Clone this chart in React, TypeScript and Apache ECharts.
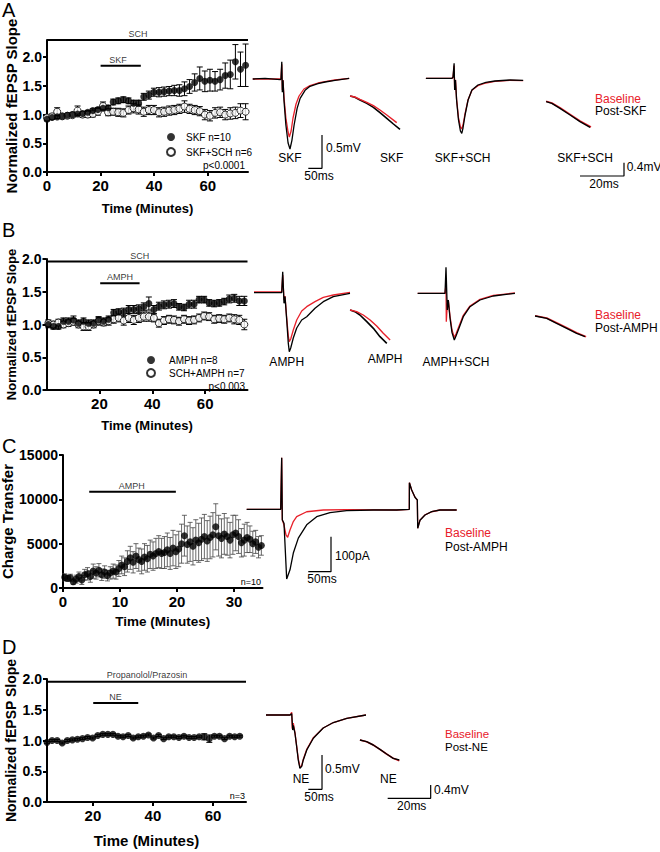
import React, { useEffect, useRef } from "react";
import * as echarts from "echarts";

const FONT = 'Arial, "Liberation Sans", Helvetica, sans-serif';
const RED = "#e8202a";

// ---------- Panel A : fEPSP slope, SKF vs SKF+SCH ----------
const A_T0 = 0;
const A_DT = 1.9;
const A_SKF = [0.92, 0.95, 0.96, 0.97, 0.99, 1.0, 1.01, 1.02, 1.04, 1.07, 1.09, 1.11, 1.12, 1.22, 1.24, 1.26, 1.24, 1.2, 1.2, 1.31, 1.34, 1.39, 1.39, 1.4, 1.41, 1.42, 1.42, 1.45, 1.49, 1.56, 1.63, 1.58, 1.6, 1.58, 1.61, 1.68, 1.7, 1.92, 1.79, 1.86];
const A_SKF_SEM = [0.03, 0.03, 0.03, 0.03, 0.03, 0.03, 0.03, 0.03, 0.03, 0.03, 0.03, 0.03, 0.04, 0.05, 0.05, 0.05, 0.05, 0.05, 0.05, 0.06, 0.07, 0.07, 0.08, 0.08, 0.08, 0.09, 0.1, 0.12, 0.12, 0.15, 0.2, 0.18, 0.19, 0.17, 0.18, 0.22, 0.25, 0.3, 0.3, 0.37];
const A_SKFSCH = [0.95, 0.97, 1.05, 0.97, 0.98, 0.99, 1.07, 1.0, 1.0, 1.01, 1.05, 1.15, 1.04, 1.05, 1.04, 1.03, 1.08, 1.11, 1.09, 1.05, 1.08, 1.08, 1.04, 1.05, 1.07, 1.08, 1.1, 1.14, 1.1, 1.08, 1.06, 1.0, 0.98, 1.03, 1.04, 1.0, 1.02, 1.03, 1.07, 1.05];
const A_SKFSCH_SEM = [0.04, 0.04, 0.07, 0.04, 0.04, 0.04, 0.08, 0.05, 0.05, 0.05, 0.06, 0.07, 0.06, 0.06, 0.07, 0.07, 0.07, 0.08, 0.08, 0.08, 0.08, 0.08, 0.08, 0.08, 0.08, 0.08, 0.08, 0.1, 0.08, 0.08, 0.08, 0.09, 0.09, 0.09, 0.09, 0.09, 0.1, 0.1, 0.12, 0.14];

// ---------- Panel B : fEPSP slope, AMPH vs SCH+AMPH ----------
const B_T0 = 0.7;
const B_DT = 1.9;
const B_AMPH = [1.0, 0.97, 0.97, 1.05, 1.05, 1.07, 1.02, 1.05, 1.02, 1.02, 1.07, 1.05, 1.08, 1.18, 1.19, 1.19, 1.23, 1.23, 1.24, 1.27, 1.32, 1.23, 1.28, 1.3, 1.31, 1.32, 1.27, 1.26, 1.31, 1.31, 1.38, 1.38, 1.33, 1.32, 1.33, 1.35, 1.39, 1.4, 1.36, 1.36];
const B_AMPH_SEM = [0.05, 0.04, 0.04, 0.05, 0.05, 0.06, 0.05, 0.05, 0.05, 0.05, 0.05, 0.05, 0.05, 0.05, 0.05, 0.06, 0.06, 0.06, 0.06, 0.06, 0.1, 0.06, 0.06, 0.06, 0.06, 0.06, 0.05, 0.05, 0.06, 0.06, 0.05, 0.05, 0.05, 0.05, 0.05, 0.05, 0.06, 0.06, 0.07, 0.07];
const B_SCHAMPH = [1.02, 1.0, 1.03, 1.0, 1.02, 1.04, 1.0, 0.97, 0.97, 1.0, 1.05, 1.03, 1.05, 1.08, 1.1, 1.06, 1.1, 1.07, 1.1, 1.12, 1.12, 1.1, 1.02, 1.06, 1.08, 1.07, 1.05, 1.08, 1.06, 1.07, 1.1, 1.13, 1.12, 1.08, 1.09, 1.08, 1.1, 1.08, 1.07, 1.0];
const B_SCHAMPH_SEM = [0.05, 0.05, 0.05, 0.05, 0.05, 0.05, 0.05, 0.06, 0.06, 0.05, 0.06, 0.05, 0.06, 0.06, 0.06, 0.07, 0.07, 0.07, 0.07, 0.07, 0.07, 0.06, 0.06, 0.06, 0.06, 0.06, 0.06, 0.06, 0.06, 0.06, 0.06, 0.06, 0.06, 0.06, 0.06, 0.06, 0.06, 0.07, 0.07, 0.08];

// ---------- Panel C : charge transfer ----------
const C_T0 = 0.3;
const C_DT = 0.5;
const C_CHARGE = [1200, 1100, 1150, 700, 1000, 1300, 900, 1500, 1600, 1300, 1900, 1700, 2000, 1500, 1800, 1400, 1700, 1900, 1800, 2200, 2600, 2400, 3000, 3400, 2900, 3600, 3200, 3000, 3500, 3300, 3800, 3600, 3900, 4100, 3900, 4000, 4300, 3900, 4500, 4100, 4400, 5000, 5900, 4900, 5200, 4700, 5400, 5100, 5500, 5800, 5300, 5700, 6000, 6900, 5900, 5600, 6100, 5800, 5400, 6000, 6200, 5800, 5100, 5400, 5700, 5500, 5000, 5200, 4600, 4800];
const C_CHARGE_SEM = [400, 350, 400, 300, 450, 500, 500, 600, 700, 650, 800, 700, 750, 650, 700, 600, 700, 800, 800, 900, 1000, 1000, 1200, 1300, 1200, 1400, 1300, 1400, 1500, 1500, 1600, 1600, 1700, 1800, 1700, 1800, 1900, 1800, 2000, 1900, 2000, 2200, 2300, 2100, 2200, 2100, 2300, 2200, 2400, 2500, 2300, 2400, 2500, 2600, 2300, 2200, 2300, 2100, 2000, 2200, 2000, 1900, 1600, 1800, 1700, 1500, 1400, 1300, 1200, 1100];

// ---------- Panel D : fEPSP slope, NE ----------
const D_T0 = 4.7;
const D_DT = 1.69;
const D_NE = [0.97, 1.0, 1.0, 0.96, 1.0, 1.01, 1.02, 1.03, 1.05, 1.04, 1.08, 1.1, 1.1, 1.1, 1.07, 1.06, 1.08, 1.04, 1.06, 1.07, 1.09, 1.04, 1.08, 1.03, 1.06, 1.06, 1.05, 1.07, 1.05, 1.05, 1.06, 1.06, 1.03, 1.07, 1.07, 1.03, 1.07, 1.06, 1.07];
const D_NE_SEM = [0.015, 0.015, 0.015, 0.015, 0.015, 0.015, 0.015, 0.015, 0.015, 0.015, 0.015, 0.015, 0.015, 0.015, 0.015, 0.015, 0.015, 0.015, 0.015, 0.015, 0.015, 0.015, 0.015, 0.015, 0.015, 0.015, 0.015, 0.015, 0.015, 0.015, 0.015, 0.05, 0.06, 0.015, 0.015, 0.015, 0.015, 0.015, 0.015];

// ---------- Example traces [ms, mV] (or [ms, pA] for C) ----------
const A_SKF_BASE = [[10, 0], [110, 0], [113, 0], [116, 0.22], [118, -0.165], [120.5, -0.015], [124, -0.27], [131, -0.585], [139, -0.795], [143.5, -0.87], [150, -0.78], [157, -0.585], [168, -0.375], [179, -0.255], [197, -0.15], [219, -0.1], [248, -0.06], [274, -0.04], [310, -0.015], [362, 0.01]];
const A_SKF_POST = [[10, 0], [55, 0.01], [110, -0.01], [113, 0], [116, 0.26], [118, -0.2], [120.5, -0.02], [124, -0.32], [131, -0.69], [139, -0.96], [146, -1.05], [153, -0.92], [161, -0.69], [172, -0.44], [183, -0.29], [201, -0.17], [219, -0.11], [248, -0.07], [274, -0.045], [310, -0.02], [362, 0.01]];
const A_SCH_BASE = [[642, 0.01], [737, 0.01], [741, 0.02], [745, 0.2], [747, -0.14], [750, -0.01], [754, -0.3], [761, -0.58], [768, -0.72], [772, -0.75], [777.5, -0.69], [785, -0.52], [796, -0.31], [810, -0.17], [832, -0.1], [861, -0.06], [894, -0.035], [949, -0.02], [997, -0.025]];
const A_SCH_POST = [[642, 0.01], [737, 0.01], [741, 0.03], [745, 0.235], [747, -0.165], [750, -0.015], [754, -0.315], [761, -0.615], [768, -0.78], [773, -0.815], [777.5, -0.735], [785, -0.54], [796, -0.315], [810, -0.165], [832, -0.09], [861, -0.05], [894, -0.03], [949, -0.015], [997, -0.02]];
const A_SKF_RISE_BASE = [[2.3, 0], [4.5, -0.03], [6.8, -0.1], [9.9, -0.19], [12.9, -0.29], [15.9, -0.42], [19, -0.57], [23.5, -0.8]];
const A_SKF_RISE_POST = [[2.3, 0], [4.5, -0.04], [6.8, -0.12], [9.9, -0.22], [12.9, -0.34], [15.9, -0.5], [19, -0.67], [22, -0.84], [25, -1.0]];
const A_SCH_RISE_BASE = [[91.4, -0.16], [94, -0.21], [97.7, -0.35], [102.3, -0.55], [106.8, -0.75], [111.8, -0.93]];
const A_SCH_RISE_POST = [[91.4, -0.17], [94, -0.22], [97.7, -0.37], [102.3, -0.57], [106.8, -0.77], [111.4, -0.94]];

const B_AMPH_BASE = [[14.6, 0.01], [115.7, 0.01], [119.4, 0.265], [124.1, -0.11], [127.8, -0.05], [134, -0.38], [139.8, -0.65], [143.4, -0.735], [148.6, -0.695], [158, -0.56], [170.5, -0.41], [188.7, -0.275], [207, -0.21], [237.3, -0.135], [267.5, -0.07], [304, -0.035], [365, 0.003]];
const B_AMPH_POST = [[14.6, 0], [115.7, 0], [119.4, 0.315], [124.1, -0.16], [127.8, -0.06], [134, -0.41], [139.8, -0.76], [143.4, -0.885], [148.6, -0.83], [158, -0.68], [170.5, -0.53], [188.7, -0.41], [207, -0.36], [237.3, -0.235], [267.5, -0.135], [304, -0.06], [365, -0.01]];
const B_SCH_BASE = [[612, -0.01], [711.8, -0.01], [715.4, 0.12], [716.5, -0.435], [720.1, -0.18], [723.8, -0.11], [730, -0.35], [737.3, -0.56], [745.7, -0.67], [751.9, -0.62], [760.3, -0.53], [778.5, -0.34], [803, -0.2], [839.5, -0.1], [888, -0.04], [967, -0.005]];
const B_SCH_POST = [[612, -0.01], [711.8, -0.01], [715.4, 0.38], [720.1, -0.26], [723.8, -0.11], [730, -0.38], [737.3, -0.6], [745.7, -0.71], [751.9, -0.65], [760.3, -0.56], [778.5, -0.36], [803, -0.21], [839.5, -0.11], [888, -0.05], [967, -0.01]];
const B_AMPH_RISE_BASE = [[2.3, 0], [5.3, -0.05], [8.3, -0.15], [11.4, -0.3], [14.4, -0.48], [17.4, -0.7], [20.5, -0.9]];
const B_AMPH_RISE_POST = [[2.3, 0], [4.5, -0.05], [6.8, -0.15], [9.9, -0.35], [12.9, -0.55], [15.9, -0.8], [19, -1.0]];
const B_SCH_RISE_BASE = [[86.4, -0.17], [91.7, -0.24], [96.2, -0.38], [100.8, -0.53], [105.3, -0.68], [109.6, -0.8]];
const B_SCH_RISE_POST = [[86.4, -0.18], [91.7, -0.25], [96.2, -0.4], [100.8, -0.55], [105.3, -0.7], [109.1, -0.8]];

const C_BASE = [[3.7, 0], [78.5, 0], [80.7, 147], [82.1, -30], [85.8, -45], [90.2, -73], [93.9, -80], [99, -59], [106.3, -35], [113.7, -21], [135.7, -7], [172.3, -2], [223.7, -1], [333.7, -2], [361.5, 0], [361.7, 76], [366.7, 55], [374, 34], [379.1, 27], [380, -54], [385, -31], [396, -16], [410.7, -7], [429, -2], [465.7, -2]];
const C_POST = [[3.7, 0], [78.5, 0], [80.7, 147.4], [82.1, -30.6], [85.8, -40], [91.7, -199.4], [99, -173], [106.3, -125.1], [117.3, -82.3], [135.7, -44.3], [157.7, -21], [187, -9.6], [223.7, -4], [282.3, -2], [333.7, -2], [361.5, 0], [361.7, 76], [366.7, 55.1], [374, 34.3], [379.1, 26.6], [380, -54.3], [385, -31.4], [396, -16.3], [410.7, -6.9], [429, -2], [465.7, -2]];

const D_NE_BASE = [[40, 0], [128, 0], [134, 0.04], [136, -0.2], [139.8, -0.12], [146, -0.26], [152, -0.45], [158, -0.64], [164, -0.76], [170.5, -0.74], [176, -0.65], [189, -0.5], [213, -0.33], [249, -0.19], [286, -0.11], [335, -0.05], [405, 0]];
const D_NE_POST = [[40, 0], [128, 0], [134, 0.02], [137.6, -0.22], [139.8, -0.15], [146, -0.27], [152, -0.46], [158, -0.66], [164, -0.78], [170.5, -0.75], [176, -0.66], [189, -0.51], [213, -0.34], [249, -0.19], [286, -0.11], [335, -0.05], [405, 0]];
const D_NE_RISE_BASE = [[2.3, 0], [5.4, -0.05], [8.5, -0.15], [11.6, -0.28], [14.7, -0.42], [17.8, -0.55], [20.6, -0.62]];
const D_NE_RISE_POST = [[2.3, 0], [5.4, -0.05], [8.5, -0.15], [11.6, -0.28], [14.7, -0.42], [17.8, -0.55], [20.6, -0.6]];

// scale bars: [ms, amplitude]
const SCALE_FULL = [50, 0.5];
const SCALE_ZOOM = [20, 0.4];
const SCALE_C = [50, 100];

// ---------- helpers ----------
const pts = (t0: number, dt: number, vals: number[], sem?: number[]) =>
  vals.map((v, i) => (sem ? [+(t0 + i * dt).toFixed(2), v, sem[i]] : [+(t0 + i * dt).toFixed(2), v]));

function errRender(cap: number, color: string, lw: number) {
  return (params: any, api: any) => {
    const x = api.value(0);
    const y = api.value(1);
    const e = api.value(2);
    const hi = api.coord([x, y + e]);
    const lo = api.coord([x, y - e]);
    const st = { stroke: color, lineWidth: lw };
    return {
      type: "group",
      children: [
        { type: "line", shape: { x1: hi[0], y1: hi[1], x2: lo[0], y2: lo[1] }, style: st },
        { type: "line", shape: { x1: hi[0] - cap, y1: hi[1], x2: hi[0] + cap, y2: hi[1] }, style: st },
        { type: "line", shape: { x1: lo[0] - cap, y1: lo[1], x2: lo[0] + cap, y2: lo[1] }, style: st },
      ],
    };
  };
}

const errSeries = (gi: number, data: number[][], cap = 3, color = "#000", lw = 1) => ({
  type: "custom",
  xAxisIndex: gi,
  yAxisIndex: gi,
  data,
  encode: { x: 0, y: 1 },
  renderItem: errRender(cap, color, lw),
  silent: true,
  clip: false,
  z: 2,
});

const dots = (gi: number, name: string, data: number[][], open: boolean, size = 7, z = 4) => ({
  type: "scatter",
  name,
  xAxisIndex: gi,
  yAxisIndex: gi,
  data: data.map((d) => [d[0], d[1]]),
  symbol: "circle",
  symbolSize: size,
  itemStyle: open ? { color: "#fff", borderColor: "#000", borderWidth: 1 } : { color: "#000" },
  silent: true,
  z,
});

const barLine = (gi: number, x0: number, x1: number, y: number) => ({
  type: "line",
  xAxisIndex: gi,
  yAxisIndex: gi,
  data: [[x0, y], [x1, y]],
  symbol: "none",
  lineStyle: { color: "#000", width: 2 },
  clip: false,
  silent: true,
  z: 5,
});

const barLabel = (gi: number, x: number, y: number, text: string, dist = 1, size = 9) => ({
  type: "scatter",
  xAxisIndex: gi,
  yAxisIndex: gi,
  data: [[x, y]],
  symbolSize: 0,
  itemStyle: { color: "#000" },
  silent: true,
  clip: false,
  label: {
    show: true,
    position: "top",
    distance: dist,
    formatter: text,
    fontSize: size,
    color: "#000",
    fontFamily: FONT,
    textBorderWidth: 0,
  },
  z: 5,
});

const trace = (gi: number, data: number[][], color: string, width = 1.3, z = 3) => ({
  type: "line",
  xAxisIndex: gi,
  yAxisIndex: gi,
  data,
  symbol: "none",
  showSymbol: false,
  lineStyle: { color, width },
  itemStyle: { color },
  clip: false,
  silent: true,
  z,
});

const scaleBar = (gi: number, corner: number[], dims: number[]) => ({
  type: "line",
  xAxisIndex: gi,
  yAxisIndex: gi,
  data: [
    [corner[0] - dims[0], corner[1]],
    [corner[0], corner[1]],
    [corner[0], corner[1] + dims[1]],
  ],
  symbol: "none",
  lineStyle: { color: "#000", width: 1.2 },
  clip: false,
  silent: true,
  z: 3,
});

const plotX = (gi: number, min: number, max: number, ticks: number[], nameSize: number, nameGap: number) => ({
  type: "value",
  gridIndex: gi,
  min,
  max,
  axisLine: { show: true, onZero: false, lineStyle: { color: "#000", width: 2 } },
  axisTick: { show: true, length: 4, lineStyle: { color: "#000", width: 2 }, customValues: ticks },
  axisLabel: { show: true, customValues: ticks, margin: 6, fontSize: 15, fontWeight: "bold", color: "#000", fontFamily: FONT },
  splitLine: { show: false },
  name: "Time (Minutes)",
  nameLocation: "middle",
  nameGap,
  nameTextStyle: { fontSize: nameSize, fontWeight: "bold", color: "#000", fontFamily: FONT },
});

const plotY = (gi: number, min: number, max: number, ticks: number[], name: string, nameSize: number, nameGap: number, digits: number) => ({
  type: "value",
  gridIndex: gi,
  min,
  max,
  axisLine: { show: true, onZero: false, lineStyle: { color: "#000", width: 2 } },
  axisTick: { show: true, length: 4, lineStyle: { color: "#000", width: 2 }, customValues: ticks },
  axisLabel: {
    show: true,
    customValues: ticks,
    margin: 5,
    fontSize: 14,
    fontWeight: "bold",
    color: "#000",
    fontFamily: FONT,
    formatter: (v: number) => v.toFixed(digits),
  },
  splitLine: { show: false },
  name,
  nameLocation: "middle",
  nameGap,
  nameTextStyle: { fontSize: nameSize, fontWeight: "bold", color: "#000", fontFamily: FONT },
});

const hx = (gi: number, max: number) => ({ type: "value", gridIndex: gi, min: 0, max, show: false, splitLine: { show: false } });
const hy = (gi: number, min: number, max: number) => ({ type: "value", gridIndex: gi, min, max, show: false, splitLine: { show: false } });

const txt = (text: string, x: number, y: number, size = 12, align = "left", color = "#000", weight = "normal") => ({
  type: "text",
  x,
  y,
  silent: true,
  style: {
    text,
    fill: color,
    font: `${weight} ${size}px ${FONT}`,
    align,
    verticalAlign: "middle",
    textAlign: align,
    textVerticalAlign: "middle",
  },
});

function buildOption() {
  const aSkf = pts(A_T0, A_DT, A_SKF, A_SKF_SEM);
  const aSch = pts(A_T0, A_DT, A_SKFSCH, A_SKFSCH_SEM);
  const bAmph = pts(B_T0, B_DT, B_AMPH, B_AMPH_SEM);
  const bSch = pts(B_T0, B_DT, B_SCHAMPH, B_SCHAMPH_SEM);
  const cCh = pts(C_T0, C_DT, C_CHARGE, C_CHARGE_SEM);
  const dNe = pts(D_T0, D_DT, D_NE, D_NE_SEM);

  const gridBoxes = [
    { left: 47, top: 40, width: 201, height: 132 },
    { left: 46.5, top: 259, width: 201, height: 131 },
    { left: 63, top: 455, width: 199.5, height: 133 },
    { left: 47, top: 679, width: 199, height: 123 },
    { left: 250, top: 55, width: 280, height: 130 },
    { left: 345, top: 90, width: 290, height: 95 },
    { left: 250, top: 262, width: 280, height: 100 },
    { left: 345, top: 300, width: 260, height: 50 },
    { left: 245, top: 450, width: 215, height: 135 },
    { left: 255, top: 700, width: 175, height: 100 },
    { left: 355, top: 730, width: 90, height: 75 },
  ];
  const grid = gridBoxes.map((g) => ({ ...g, containLabel: false, outerBoundsMode: "none", show: false }));

  const xAxis = [
    plotX(0, 0, 75, [0, 20, 40, 60], 13, 29.5),
    plotX(1, 0, 76, [20, 40, 60], 13, 28.5),
    plotX(2, 0, 35, [0, 10, 20, 30], 13.5, 26),
    plotX(3, 4.7, 71, [20, 40, 60], 15, 30.5),
    hx(4, 1022),
    hx(5, 131.8),
    hx(6, 1022),
    hx(7, 118.2),
    hx(8, 473),
    hx(9, 638.75),
    hx(10, 41.86),
  ];
  const yAxis = [
    plotY(0, 0, 2.3, [0, 0.5, 1, 1.5, 2], "Normalized fEPSP Slope", 15, 28.5, 1),
    plotY(1, 0, 2, [0, 0.5, 1, 1.5, 2], "Normalized fEPSP Slope", 13, 29, 1),
    plotY(2, 0, 15000, [0, 5000, 10000, 15000], "Charge Transfer", 15, 45.5, 0),
    plotY(3, 0, 2, [0, 0.5, 1, 1.5, 2], "Normalized fEPSP Slope", 14, 29, 1),
    hy(4, -1.59, 0.36),
    hy(5, -2.67, 0.18),
    hy(6, -1.04, 0.46),
    hy(7, -1.2, 0.3),
    hy(8, -216.3, 169.4),
    hy(9, -1.241, 0.219),
    hy(10, -1.95, 0.3),
  ];

  const series: any[] = [
    // Panel A
    errSeries(0, aSch),
    errSeries(0, aSkf),
    dots(0, "SKF+SCH n=6", aSch, true, 7, 3),
    dots(0, "SKF n=10", aSkf, false, 7, 4),
    barLine(0, 0, 75, 2.3),
    barLabel(0, 34, 2.3, "SCH", 2),
    barLine(0, 20, 35, 1.85),
    barLabel(0, 26.5, 1.85, "SKF", 1),
    // Panel B
    errSeries(1, bSch),
    errSeries(1, bAmph),
    dots(1, "SCH+AMPH n=7", bSch, true, 7, 3),
    dots(1, "AMPH n=8", bAmph, false, 7, 4),
    barLine(1, 0, 76, 1.96),
    barLabel(1, 35.3, 1.96, "SCH", 1),
    barLine(1, 20.3, 35.2, 1.63),
    barLabel(1, 27.8, 1.63, "AMPH", 2),
    // Panel C
    errSeries(2, cCh, 2.5, "#444", 0.8),
    dots(2, "Charge", cCh, false, 7, 4),
    barLine(2, 4.6, 19.8, 10850),
    barLabel(2, 12.05, 10850, "AMPH", 1),
    // Panel D
    errSeries(3, dNe),
    dots(3, "NE n=3", dNe, false, 7, 4),
    barLine(3, 4.7, 71, 1.956),
    barLabel(3, 38, 1.956, "Propanolol/Prazosin", 2),
    barLine(3, 20.1, 35.1, 1.61),
    barLabel(3, 27.5, 1.61, "NE", 1),
    // Traces A
    trace(4, A_SKF_BASE, RED),
    trace(4, A_SKF_POST, "#000"),
    trace(4, A_SCH_BASE, RED),
    trace(4, A_SCH_POST, "#000"),
    trace(5, A_SKF_RISE_POST, "#000", 1.6),
    trace(5, A_SKF_RISE_BASE, RED, 1.4),
    trace(5, A_SCH_RISE_BASE, RED, 1.6),
    trace(5, A_SCH_RISE_POST, "#000", 1.4),
    scaleBar(4, [262.8, -1.34], SCALE_FULL),
    scaleBar(5, [126.8, -2.4], SCALE_ZOOM),
    // Traces B
    trace(6, B_AMPH_BASE, RED),
    trace(6, B_AMPH_POST, "#000"),
    trace(6, B_SCH_BASE, RED),
    trace(6, B_SCH_POST, "#000"),
    trace(7, B_AMPH_RISE_POST, "#000", 1.6),
    trace(7, B_AMPH_RISE_BASE, RED, 1.4),
    trace(7, B_SCH_RISE_BASE, RED, 1.6),
    trace(7, B_SCH_RISE_POST, "#000", 1.4),
    // Traces C
    trace(8, C_BASE, RED),
    trace(8, C_POST, "#000"),
    scaleBar(8, [189.2, -178.3], SCALE_C),
    // Traces D
    trace(9, D_NE_BASE, RED),
    trace(9, D_NE_POST, "#000"),
    trace(10, D_NE_RISE_BASE, RED, 1.6),
    trace(10, D_NE_RISE_POST, "#000", 1.4),
    scaleBar(9, [244.6, -1.085], SCALE_FULL),
    scaleBar(10, [35.2, -1.75], SCALE_ZOOM),
  ];

  const legendBase = {
    orient: "vertical",
    itemWidth: 8,
    itemHeight: 8,
    selectedMode: false,
    icon: "circle",
    padding: 0,
    textStyle: { fontSize: 10, color: "#000", fontFamily: FONT, lineHeight: 12 },
  };
  const legend = [
    { ...legendBase, data: ["SKF n=10", "SKF+SCH n=6"], left: 166, top: 131, itemGap: 3, textStyle: { ...legendBase.textStyle, padding: [0, 0, 0, 6] } },
    { ...legendBase, data: ["AMPH n=8", "SCH+AMPH n=7"], left: 146, top: 354, itemGap: 1, textStyle: { ...legendBase.textStyle, padding: [0, 0, 0, 9] } },
  ];

  const graphicEls = [
    txt("A", 2, 10, 20),
    txt("B", 2, 230, 20),
    txt("C", 2, 446, 20),
    txt("D", 2, 647, 20),
    txt("p<0.0001", 245, 165, 10, "right"),
    txt("p<0.003", 245, 386, 10, "right"),
    txt("n=10", 261, 582, 9, "right"),
    txt("n=3", 245, 796, 9, "right"),
    // A traces
    txt("SKF", 290, 158.3, 12, "center"),
    txt("0.5mV", 326, 147.7, 12),
    txt("50ms", 319, 176, 12, "center"),
    txt("SKF", 391.7, 158.3, 12, "center"),
    txt("SKF+SCH", 462.7, 158.3, 12, "center"),
    txt("SKF+SCH", 585, 158.3, 12, "center"),
    txt("Baseline", 595, 98.5, 12, "left", RED),
    txt("Post-SKF", 595, 111, 12),
    txt("0.4mV", 626.7, 166.7, 12),
    txt("20ms", 604, 184, 12, "center"),
    // B traces
    txt("AMPH", 286.7, 361.7, 12, "center"),
    txt("AMPH", 385, 359, 12, "center"),
    txt("AMPH+SCH", 456, 361.7, 12, "center"),
    txt("Baseline", 595, 315, 12, "left", RED),
    txt("Post-AMPH", 595, 328.3, 12),
    // C traces
    txt("100pA", 335, 556, 12),
    txt("50ms", 322, 579.3, 12, "center"),
    txt("Baseline", 445, 533.3, 12, "left", RED),
    txt("Post-AMPH", 445, 546.7, 12),
    // D traces
    txt("NE", 301, 779, 12, "center"),
    txt("0.5mV", 325, 769.3, 12),
    txt("50ms", 319, 796.7, 12, "center"),
    txt("NE", 388.3, 779, 12, "center"),
    txt("0.4mV", 434, 790, 12),
    txt("20ms", 411.7, 806, 12, "center"),
    txt("Baseline", 445, 733.5, 11.5, "left", RED),
    txt("Post-NE", 445, 746.5, 11.5),
  ];

  return {
    animation: false,
    backgroundColor: "#fff",
    textStyle: { fontFamily: FONT },
    grid,
    xAxis,
    yAxis,
    legend,
    series,
    graphic: { elements: graphicEls },
  };
}

export default function App() {
  const ref = useRef<HTMLDivElement>(null);
  useEffect(() => {
    if (!ref.current) return;
    const chart = echarts.init(ref.current, null, { renderer: "svg" });
    chart.setOption(buildOption() as any);
    return () => {
      chart.dispose();
    };
  }, []);
  return (
    <div
      ref={ref}
      style={{ position: "absolute", left: 0, top: 0, width: 660, height: 852, background: "#fff" }}
    />
  );
}
